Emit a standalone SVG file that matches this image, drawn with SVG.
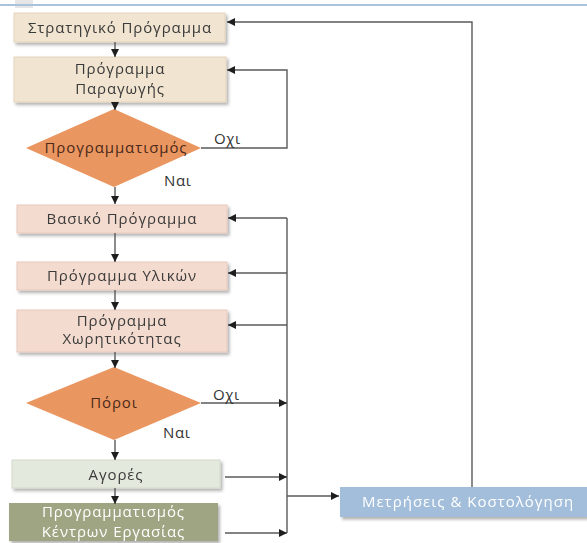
<svg xmlns="http://www.w3.org/2000/svg" width="587" height="543" viewBox="0 0 587 543">
  <style>
    .lbl { font-family: "Open Sans", "Noto Sans", "DejaVu Sans", sans-serif; font-size: 15px; letter-spacing: 0.9px; fill: #3b3b3b; text-anchor: middle; }
    .dia { fill: #4a2a1a; }
    .wht { fill: #ffffff; }
    .ans { font-family: "Open Sans", "Noto Sans", "DejaVu Sans", sans-serif; font-size: 15px; letter-spacing: 0.6px; fill: #333333; }
    .wire { fill: none; stroke: #5a5a5a; stroke-width: 1.4; }
    .beige { fill: #f1e4d0; stroke: #e3d4bc; stroke-width: 1; }
    .pink { fill: #f4dbcf; stroke: #e6c9bb; stroke-width: 1; }
    .orange { fill: #ea9660; }
    .pale { fill: #e4e9dd; stroke: #d3dacb; stroke-width: 1; }
    .olive { fill: #9fa582; }
    .blue { fill: #a3bedb; }
  </style>
  <defs>
    <filter id="shadow" x="-10%" y="-20%" width="125%" height="160%">
      <feDropShadow dx="2" dy="2.5" stdDeviation="1.5" flood-color="#000000" flood-opacity="0.3"/>
    </filter>
    <marker id="arrow" viewBox="0 0 10 10" refX="10" refY="5" markerWidth="9" markerHeight="8" markerUnits="userSpaceOnUse" orient="auto">
      <path d="M0,0 L10,5 L0,10 z" fill="#1e1e1e"/>
    </marker>
  </defs>

  <!-- header rule -->
  <rect x="15" y="0" width="18" height="8" fill="#e6e6e6"/>
  <line x1="0" y1="5" x2="587" y2="5" stroke="#a9c3dc" stroke-width="2"/>

  <!-- nodes -->
  <g id="strategic-plan" filter="url(#shadow)">
    <rect class="beige" x="14" y="13" width="211" height="29"/>
    <text class="lbl" x="120" y="33">Στρατηγικό Πρόγραμμα</text>
  </g>
  <g id="production-plan" filter="url(#shadow)">
    <rect class="beige" x="14" y="57" width="212" height="45"/>
    <text class="lbl" x="120" y="74">Πρόγραμμα</text>
    <text class="lbl" x="120" y="94">Παραγωγής</text>
  </g>
  <g id="scheduling-decision">
    <polygon class="orange" points="114,109 201,148 114,187 26,148"/>
    <text class="lbl dia" x="116" y="153">Προγραμματισμός</text>
  </g>
  <g id="master-plan" filter="url(#shadow)">
    <rect class="pink" x="17" y="205" width="210" height="28"/>
    <text class="lbl" x="122" y="224">Βασικό Πρόγραμμα</text>
  </g>
  <g id="materials-plan" filter="url(#shadow)">
    <rect class="pink" x="17" y="262" width="210" height="28"/>
    <text class="lbl" x="122" y="281">Πρόγραμμα Υλικών</text>
  </g>
  <g id="capacity-plan" filter="url(#shadow)">
    <rect class="pink" x="17" y="310" width="210" height="42"/>
    <text class="lbl" x="122" y="326">Πρόγραμμα</text>
    <text class="lbl" x="122" y="344">Χωρητικότητας</text>
  </g>
  <g id="resources-decision">
    <polygon class="orange" points="114,367 201,403 114,440 26,403"/>
    <text class="lbl dia" x="114" y="408">Πόροι</text>
  </g>
  <g id="purchasing" filter="url(#shadow)">
    <rect class="pale" x="12" y="460" width="208" height="28"/>
    <text class="lbl" x="116" y="480">Αγορές</text>
  </g>
  <g id="work-center-scheduling" filter="url(#shadow)">
    <rect class="olive" x="9" y="503" width="209" height="38"/>
    <text class="lbl wht" x="113.5" y="517">Προγραμματισμός</text>
    <text class="lbl wht" x="113.5" y="537">Κέντρων Εργασίας</text>
  </g>
  <g id="measurement-costing" filter="url(#shadow)">
    <rect class="blue" x="340" y="487" width="247" height="30"/>
    <text class="lbl wht" x="468" y="507" style="letter-spacing:1px">Μετρήσεις &amp; Κοστολόγηση</text>
  </g>

  <!-- connectors -->
  <g id="connectors">
    <line class="wire" x1="115" y1="42" x2="115" y2="57" marker-end="url(#arrow)"/>
    <line class="wire" x1="115" y1="102" x2="115" y2="110" marker-end="url(#arrow)"/>
    <line class="wire" x1="115" y1="187" x2="115" y2="204" marker-end="url(#arrow)"/>
    <line class="wire" x1="115" y1="233" x2="115" y2="262" marker-end="url(#arrow)"/>
    <line class="wire" x1="115" y1="290" x2="115" y2="310" marker-end="url(#arrow)"/>
    <line class="wire" x1="115" y1="352" x2="115" y2="368" marker-end="url(#arrow)"/>
    <line class="wire" x1="115" y1="440" x2="115" y2="460" marker-end="url(#arrow)"/>
    <line class="wire" x1="115" y1="488" x2="115" y2="504" marker-end="url(#arrow)"/>

    <!-- scheduling: no, back to production plan -->
    <polyline class="wire" points="201,148 287,148 287,70 227,70" marker-end="url(#arrow)"/>
    <!-- costing feedback to strategic plan -->
    <polyline class="wire" points="472,487 472,22 227,22" marker-end="url(#arrow)"/>

    <!-- lower feedback bus -->
    <line class="wire" x1="287" y1="218" x2="287" y2="533"/>
    <line class="wire" x1="287" y1="218" x2="228" y2="218" marker-end="url(#arrow)"/>
    <line class="wire" x1="287" y1="273" x2="228" y2="273" marker-end="url(#arrow)"/>
    <line class="wire" x1="287" y1="325" x2="228" y2="325" marker-end="url(#arrow)"/>
    <line class="wire" x1="201" y1="403" x2="287" y2="403" marker-end="url(#arrow)"/>
    <line class="wire" x1="225" y1="477" x2="287" y2="477" marker-end="url(#arrow)"/>
    <line class="wire" x1="225" y1="533" x2="287" y2="533" marker-end="url(#arrow)"/>
    <line class="wire" x1="287" y1="496" x2="339" y2="496" marker-end="url(#arrow)"/>

    <text class="ans" x="214" y="144">Οχι</text>
    <text class="ans" x="164" y="186">Ναι</text>
    <text class="ans" x="213" y="400">Οχι</text>
    <text class="ans" x="163" y="438">Ναι</text>
  </g>
</svg>
